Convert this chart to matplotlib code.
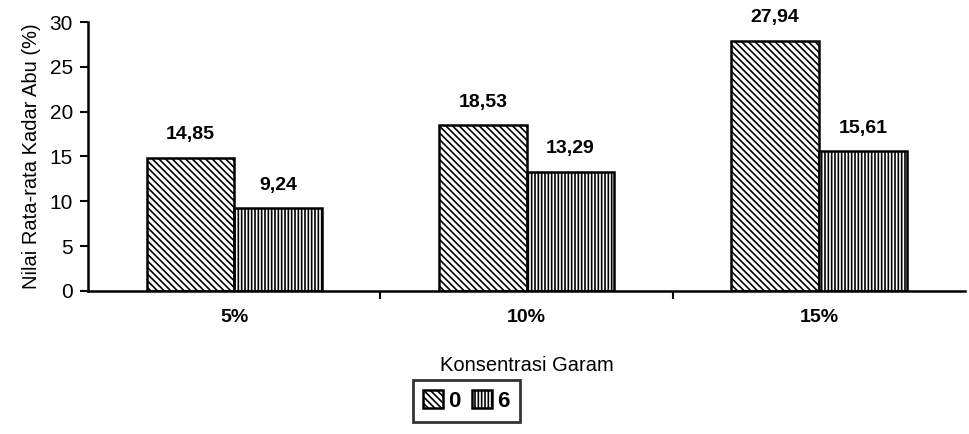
import matplotlib.pyplot as plt
import numpy as np

plt.rcParams['font.family'] = ['Liberation Sans', 'DejaVu Sans']
plt.rcParams['hatch.linewidth'] = 1.2

# Data
kategori = ['5%', '10%', '15%']
seri_0 = [14.85, 18.53, 27.94]
seri_6 = [9.24, 13.29, 15.61]
label_0 = ['14,85', '18,53', '27,94']
label_6 = ['9,24', '13,29', '15,61']

fig = plt.figure(figsize=(9.69, 4.34), dpi=100)
ax = fig.add_axes([0.091, 0.33, 0.905, 0.619])

x = np.arange(len(kategori))
w = 0.3
b0 = ax.bar(x - w / 2, seri_0, w, color='white', edgecolor='black',
            hatch='\\\\\\\\\\', linewidth=1.8, label='0')
b6 = ax.bar(x + w / 2, seri_6, w, color='white', edgecolor='black',
            hatch='|||||', linewidth=1.8, label='6')

for rect, t in zip(b0, label_0):
    ax.text(rect.get_x() + rect.get_width() / 2, rect.get_height() + 1.6, t,
            ha='center', va='bottom', fontsize=14, fontweight='bold')
for rect, t in zip(b6, label_6):
    ax.text(rect.get_x() + rect.get_width() / 2, rect.get_height() + 1.6, t,
            ha='center', va='bottom', fontsize=14, fontweight='bold')

ax.set_xlim(-0.5, 2.5)
ax.set_ylim(0, 30)
ax.set_yticks(range(0, 31, 5))
ax.set_yticklabels([str(v) for v in range(0, 31, 5)], fontsize=15)
ax.set_xticks([0.5, 1.5])
ax.set_xticklabels([])
ax.tick_params(axis='x', length=6, width=1.5, direction='out')
ax.tick_params(axis='y', length=6, width=1.5, direction='out', pad=5)
for i, k in enumerate(kategori):
    ax.text(i, -2.0, k, ha='center', va='top', fontsize=14, fontweight='bold')

for s in ['top', 'right']:
    ax.spines[s].set_visible(False)
for s in ['left', 'bottom']:
    ax.spines[s].set_linewidth(1.8)

ax.set_ylabel('Nilai Rata-rata Kadar Abu (%)', fontsize=14.5, labelpad=6)
ax.text(1, -7.3, 'Konsentrasi Garam', ha='center', va='top', fontsize=14.5)

leg = fig.legend(handles=[b0, b6], loc='center', bbox_to_anchor=(0.481, 0.077),
                 ncol=2, frameon=True, fancybox=False, edgecolor='black',
                 handlelength=0.9, handleheight=0.9, handletextpad=0.25,
                 columnspacing=0.5, borderpad=0.45, borderaxespad=0,
                 prop={'size': 16, 'weight': 'bold'})
leg.get_frame().set_linewidth(2.0)

plt.savefig('out.png', dpi=100)
